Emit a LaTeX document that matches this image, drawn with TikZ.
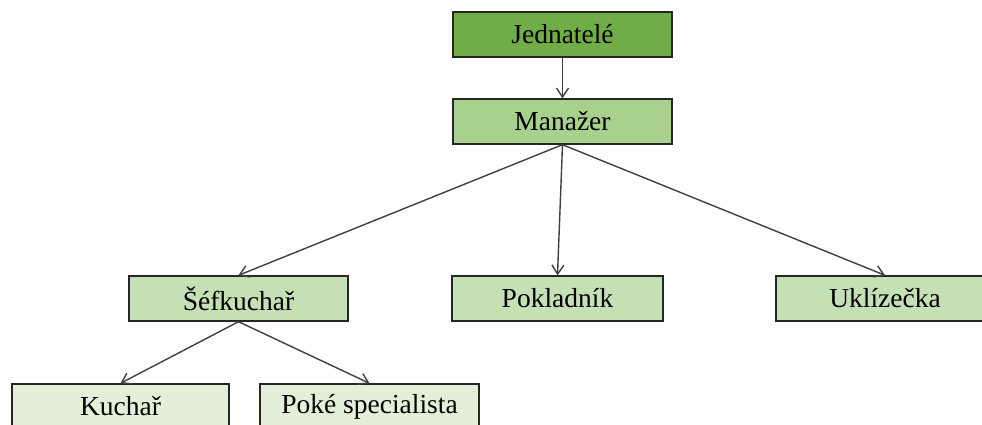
\documentclass[tikz,border=0pt]{standalone}
\usepackage{fontspec}
\setmainfont{Liberation Serif}
\usetikzlibrary{arrows.meta}
\definecolor{gA}{HTML}{70AD47}
\definecolor{gB}{HTML}{A9D18E}
\definecolor{gC}{HTML}{C5E0B4}
\definecolor{gD}{HTML}{E2F0D9}
\definecolor{edge}{HTML}{404040}
\tikzset{
  orgbox/.style={draw=black!85, line width=1.4pt, rectangle, minimum height=45pt, inner sep=0pt,
    font=\fontsize{27.5pt}{30pt}\selectfont, text=black},
  conn/.style={draw=edge, line width=1.4pt, -{Straight Barb[length=9pt,width=12pt,line width=1.4pt]}}
}
\begin{document}
\begin{tikzpicture}[x=1pt,y=-1pt]
\useasboundingbox (0,0) rectangle (982,425);
\clip (0,0) rectangle (982,425);
\fill[white] (0,0) rectangle (982,425);
\node[orgbox, fill=gA, minimum width=219pt] (jed) at (562.5,34.5) {Jednatelé};
\node[orgbox, fill=gB, minimum width=219pt] (man) at (562.5,121.5) {Manažer};
\node[orgbox, fill=gC, minimum width=219pt] (sef) at (238.5,298.5) {Šéfkuchař};
\node[orgbox, fill=gC, minimum width=211pt] (pok) at (557.5,298.5) {Pokladník};
\node[orgbox, fill=gC, minimum width=218pt] (ukl) at (885,298.5) {Uklízečka};
\node[orgbox, fill=gD, minimum width=217pt] (kuc) at (120.5,406.5) {Kuchař};
\node[orgbox, fill=gD, minimum width=219pt] (poke) at (369.5,406.5) {Poké specialista};
\draw[conn] (jed.south) -- (man.north);
\draw[conn] (man.south) -- (sef.north);
\draw[conn] (man.south) -- (pok.north);
\draw[conn] (man.south) -- (ukl.north);
\draw[conn] (sef.south) -- (kuc.north);
\draw[conn] (sef.south) -- (poke.north);
\end{tikzpicture}
\end{document}
